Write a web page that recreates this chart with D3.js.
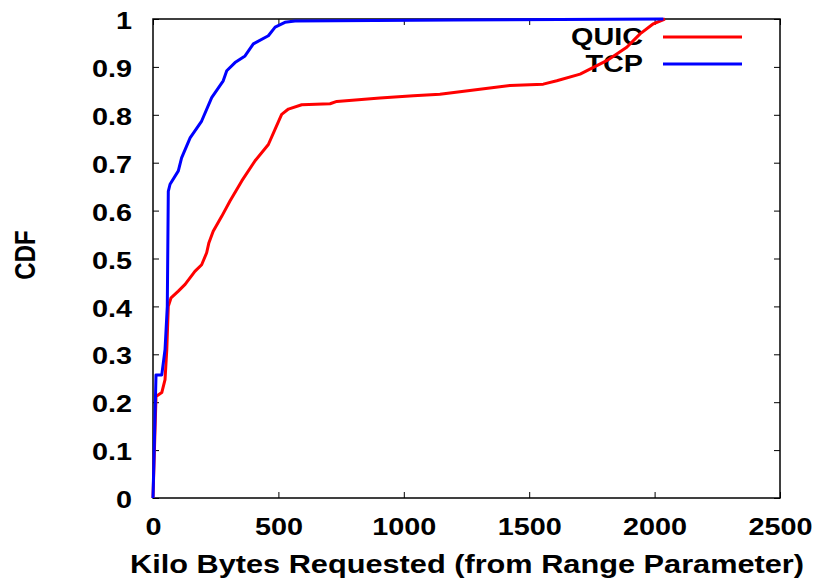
<!DOCTYPE html>
<html>
<head>
<meta charset="utf-8">
<script src="https://cdn.jsdelivr.net/npm/d3@7"></script>
<style>
  html, body { margin: 0; padding: 0; background: #fff; }
  svg { display: block; }
  text { font-family: "Liberation Sans", Arial, Helvetica, sans-serif; font-weight: bold; fill: #000; }
</style>
</head>
<body>
<svg id="chart" width="820" height="582"></svg>
<script>
// CDF of requested size (KB) per protocol
const quicKB  = [0, 12, 35, 48, 55, 61, 72, 101, 128, 167, 194, 214, 223, 240, 274, 307, 354, 407, 460, 487, 513, 540, 593, 706, 733, 905, 1038, 1144, 1423, 1556, 1610, 1703, 1756, 1809, 1889, 1942, 1995, 2041];
const quicCDF = [0, 0.212, 0.22, 0.247, 0.31, 0.40, 0.418, 0.432, 0.446, 0.473, 0.487, 0.512, 0.533, 0.557, 0.588, 0.62, 0.662, 0.704, 0.738, 0.77, 0.801, 0.812, 0.821, 0.823, 0.828, 0.835, 0.840, 0.843, 0.861, 0.864, 0.871, 0.885, 0.899, 0.913, 0.941, 0.969, 0.99, 1.0];

const tcpKB  = [0, 12, 35, 48, 57, 61, 68, 101, 114, 148, 194, 234, 280, 294, 327, 367, 400, 460, 487, 526, 566, 1200, 2035];
const tcpCDF = [0, 0.257, 0.257, 0.31, 0.40, 0.64, 0.655, 0.683, 0.71, 0.752, 0.787, 0.836, 0.871, 0.892, 0.909, 0.923, 0.948, 0.965, 0.983, 0.993, 0.996, 0.998, 1.0];

const xTicks = [0, 500, 1000, 1500, 2000, 2500];
const yTicks = [0, 0.1, 0.2, 0.3, 0.4, 0.5, 0.6, 0.7, 0.8, 0.9, 1];
const yTickLabels = ["0", "0.1", "0.2", "0.3", "0.4", "0.5", "0.6", "0.7", "0.8", "0.9", "1"];

const seriesNames = ["QUIC", "TCP"];
const seriesColors = ["#ff0000", "#0000ff"];

const svg = d3.select("#chart");
const plotLeft = 153, plotRight = 780, plotTop = 19, plotBottom = 498;
const stretch = 1.2;   // wide lettering

const x = d3.scaleLinear().domain([0, 2500]).range([plotLeft, plotRight]);
const y = d3.scaleLinear().domain([0, 1]).range([plotBottom, plotTop]);

// Axes with inward ticks, mirrored on top and right
const tickLen = 6;
const gx = svg.append("g").attr("transform", `translate(0,${plotBottom})`)
  .call(d3.axisBottom(x).tickValues(xTicks).tickSize(-tickLen).tickFormat(d3.format("d")));
const gxTop = svg.append("g").attr("transform", `translate(0,${plotTop})`)
  .call(d3.axisTop(x).tickValues(xTicks).tickSize(-tickLen).tickFormat(""));
const gy = svg.append("g").attr("transform", `translate(${plotLeft},0)`)
  .call(d3.axisLeft(y).tickValues(yTicks).tickSize(-tickLen).tickFormat((d, i) => yTickLabels[i]));
const gyRight = svg.append("g").attr("transform", `translate(${plotRight},0)`)
  .call(d3.axisRight(y).tickValues(yTicks).tickSize(-tickLen).tickFormat(""));

[gx, gxTop, gy, gyRight].forEach(g => {
  g.select(".domain").remove();
  g.attr("font-family", null).attr("font-size", null);
  g.selectAll(".tick line").attr("stroke", "#000").attr("stroke-width", 1);
});

gx.selectAll(".tick text")
  .attr("x", null).attr("y", null).attr("dy", "0.36em")
  .attr("text-anchor", "middle")
  .attr("transform", `translate(0,28) scale(${stretch},1)`)
  .style("font-size", "24px");

gy.selectAll(".tick text")
  .attr("x", null).attr("y", null).attr("dy", "0.4em")
  .attr("text-anchor", "end")
  .attr("transform", `translate(-21,0) scale(${stretch},1)`)
  .style("font-size", "24px");

// Frame
svg.append("rect")
  .attr("x", plotLeft).attr("y", plotTop)
  .attr("width", plotRight - plotLeft).attr("height", plotBottom - plotTop)
  .attr("fill", "none").attr("stroke", "#000").attr("stroke-width", 1.5);

// Axis titles
svg.append("text")
  .attr("transform", `translate(467,573) scale(${stretch},1)`)
  .attr("text-anchor", "middle")
  .style("font-size", "25.6px")
  .text("Kilo Bytes Requested (from Range Parameter)");

svg.append("text")
  .attr("transform", `translate(25,255) scale(${stretch},1) rotate(-90)`)
  .attr("text-anchor", "middle")
  .attr("dy", "0.36em")
  .style("font-size", "24px")
  .text("CDF");

// Legend
const legendY = [36, 63];
const legendLineY = [37, 64];
seriesNames.forEach((name, i) => {
  svg.append("text")
    .attr("transform", `translate(643,${legendY[i]}) scale(${stretch},1)`)
    .attr("dy", "0.36em")
    .attr("text-anchor", "end")
    .style("font-size", "24px")
    .text(name);
  svg.append("line")
    .attr("x1", 663).attr("x2", 742)
    .attr("y1", legendLineY[i]).attr("y2", legendLineY[i])
    .attr("stroke", seriesColors[i]).attr("stroke-width", 3);
});

// Curves
const line = d3.line().x(d => x(d[0])).y(d => y(d[1]));
const series = [
  d3.zip(quicKB, quicCDF),
  d3.zip(tcpKB, tcpCDF)
];
series.forEach((pts, i) => {
  svg.append("path")
    .datum(pts)
    .attr("d", line)
    .attr("fill", "none")
    .attr("stroke", seriesColors[i])
    .attr("stroke-width", 3)
    .attr("stroke-linejoin", "round");
});
</script>
</body>
</html>
